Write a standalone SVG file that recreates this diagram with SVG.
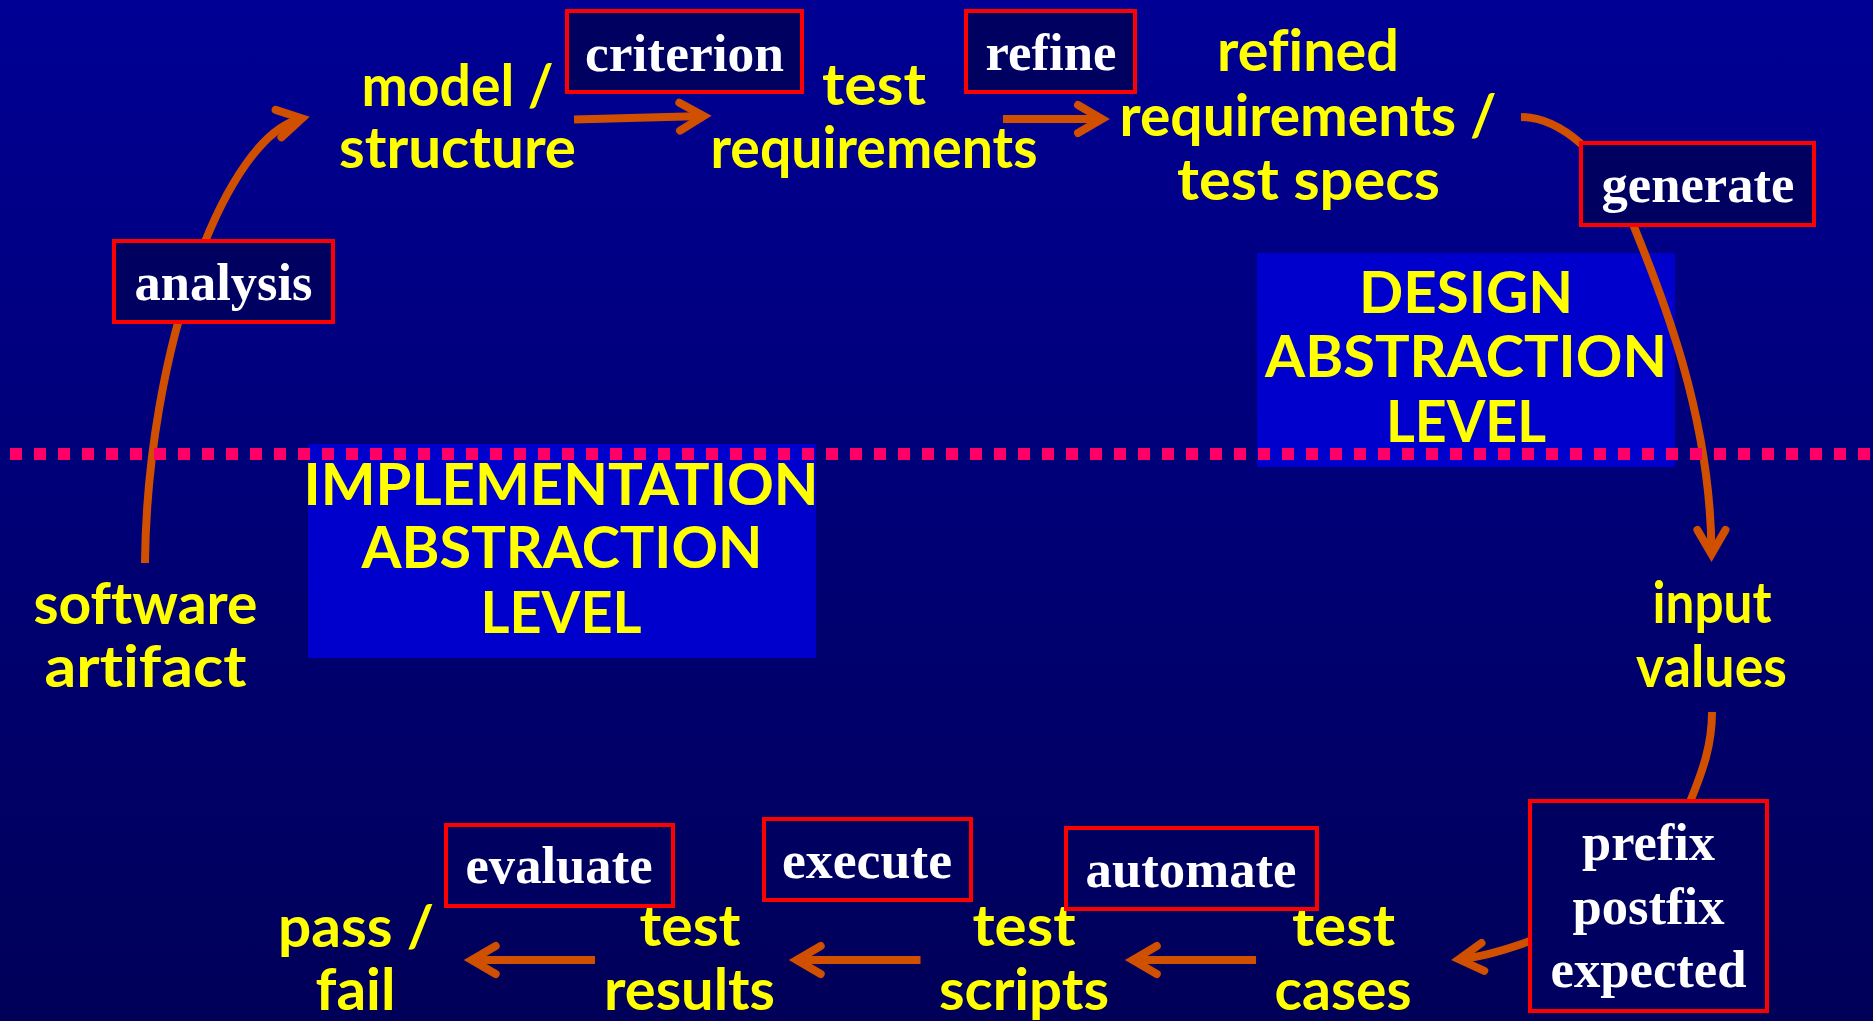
<svg xmlns="http://www.w3.org/2000/svg" width="1873" height="1021" viewBox="0 0 1873 1021">
  <defs>
    <linearGradient id="bg" x1="0" y1="0" x2="0" y2="1">
      <stop offset="0" stop-color="#000094"/>
      <stop offset="1" stop-color="#000058"/>
    </linearGradient>
    <marker id="head" markerUnits="userSpaceOnUse" viewBox="-40 -30 60 60" markerWidth="60" markerHeight="60" refX="0" refY="0" orient="auto">
      <path d="M-24,-14 L0,0 L-24,14" fill="none" stroke="#D05000" stroke-width="8" stroke-linecap="round" stroke-linejoin="miter" stroke-miterlimit="10"/>
    </marker>
  </defs>
  <style>
    .lbl { font-family: Lato, 'DejaVu Sans', sans-serif; font-weight: 700; font-size: 57px; fill: #FFFF00; text-anchor: middle; font-variant-ligatures: none; }
    .act { font-family: 'Liberation Serif', 'Times New Roman', serif; font-weight: 700; font-size: 53px; fill: #FFFFFF; text-anchor: middle; }
    .box { fill: #000060; stroke: #FF0000; stroke-width: 4; }
    .level { fill: #0000CC; }
    .edge { fill: none; stroke: #D05000; stroke-width: 8; stroke-linecap: butt; }
    .arrow { marker-end: url(#head); }
    .divider { fill: none; stroke: #FF0066; stroke-width: 12; stroke-dasharray: 12 12; }
  </style>

  <rect x="0" y="0" width="1873" height="1021" fill="url(#bg)"/>

  <!-- abstraction level panels -->
  <g id="design-level">
    <rect class="level" x="1257" y="253" width="418" height="214"/>
    <text class="lbl" x="1466" y="313" textLength="214" lengthAdjust="spacingAndGlyphs">DESIGN</text>
    <text class="lbl" x="1466" y="377" textLength="402" lengthAdjust="spacingAndGlyphs">ABSTRACTION</text>
    <text class="lbl" x="1466" y="442" textLength="160" lengthAdjust="spacingAndGlyphs">LEVEL</text>
  </g>
  <g id="implementation-level">
    <rect class="level" x="308" y="444" width="508" height="214"/>
    <text class="lbl" x="561" y="505" textLength="515" lengthAdjust="spacingAndGlyphs">IMPLEMENTATION</text>
    <text class="lbl" x="562" y="568" textLength="401" lengthAdjust="spacingAndGlyphs">ABSTRACTION</text>
    <text class="lbl" x="561" y="633" textLength="161" lengthAdjust="spacingAndGlyphs">LEVEL</text>
  </g>

  <!-- connectors -->
  <g id="connectors">
    <path class="edge arrow" d="M145,563 C147,350 225,135 302,118.5"/>
    <path class="edge arrow" d="M574,119.5 L703.7,116"/>
    <path class="edge arrow" d="M1003,119 L1102,119"/>
    <path class="edge arrow" d="M1521,117 C1560,117 1605,157 1625,205 C1665,300 1711,420 1711.5,554"/>
    <path class="edge" d="M1712,712 C1712,745 1703,770 1690,802"/>
    <path class="edge arrow" d="M1530,941 C1505,950 1482,957 1459,959.3"/>
    <path class="edge arrow" d="M1256,960 L1132.8,960"/>
    <path class="edge arrow" d="M920.5,960 L796.7,960"/>
    <path class="edge arrow" d="M595,960 L471.7,960"/>
  </g>

  <!-- boundary between the two abstraction levels -->
  <line class="divider" x1="10" y1="454" x2="1873" y2="454"/>

  <!-- artifacts -->
  <g id="software-artifact">
    <text class="lbl" x="145.5" y="624" textLength="224" lengthAdjust="spacingAndGlyphs">software</text>
    <text class="lbl" x="145.5" y="687" textLength="202" lengthAdjust="spacingAndGlyphs">artifact</text>
  </g>
  <g id="model-structure">
    <text class="lbl" x="457.5" y="106" textLength="192" lengthAdjust="spacingAndGlyphs">model /</text>
    <text class="lbl" x="457.5" y="168" textLength="237" lengthAdjust="spacingAndGlyphs">structure</text>
  </g>
  <g id="test-requirements">
    <text class="lbl" x="874" y="105" textLength="104" lengthAdjust="spacingAndGlyphs">test</text>
    <text class="lbl" x="874" y="168" textLength="327" lengthAdjust="spacingAndGlyphs">requirements</text>
  </g>
  <g id="refined-requirements">
    <text class="lbl" x="1308" y="71" textLength="182" lengthAdjust="spacingAndGlyphs">refined</text>
    <text class="lbl" x="1308" y="135.5" textLength="377" lengthAdjust="spacingAndGlyphs">requirements /</text>
    <text class="lbl" x="1308.5" y="200" textLength="263" lengthAdjust="spacingAndGlyphs">test specs</text>
  </g>
  <g id="input-values">
    <text class="lbl" x="1712" y="623" textLength="119" lengthAdjust="spacingAndGlyphs">input</text>
    <text class="lbl" x="1711.5" y="687" textLength="151" lengthAdjust="spacingAndGlyphs">values</text>
  </g>
  <g id="test-cases">
    <text class="lbl" x="1343.5" y="946" textLength="103" lengthAdjust="spacingAndGlyphs">test</text>
    <text class="lbl" x="1343" y="1010" textLength="137" lengthAdjust="spacingAndGlyphs">cases</text>
  </g>
  <g id="test-scripts">
    <text class="lbl" x="1024" y="946" textLength="103" lengthAdjust="spacingAndGlyphs">test</text>
    <text class="lbl" x="1024" y="1010" textLength="170" lengthAdjust="spacingAndGlyphs">scripts</text>
  </g>
  <g id="test-results">
    <text class="lbl" x="690" y="946" textLength="101" lengthAdjust="spacingAndGlyphs">test</text>
    <text class="lbl" x="689.5" y="1010" textLength="171" lengthAdjust="spacingAndGlyphs">results</text>
  </g>
  <g id="pass-fail">
    <text class="lbl" x="356" y="947" textLength="156" lengthAdjust="spacingAndGlyphs">pass /</text>
    <text class="lbl" x="355.5" y="1010" textLength="80" lengthAdjust="spacingAndGlyphs">fail</text>
  </g>

  <!-- activities -->
  <g id="analysis">
    <rect class="box" x="114" y="241" width="219" height="81"/>
    <text class="act" x="223.5" y="300" textLength="178" lengthAdjust="spacingAndGlyphs">analysis</text>
  </g>
  <g id="criterion">
    <rect class="box" x="567" y="11" width="235" height="81"/>
    <text class="act" x="684.5" y="71" textLength="199" lengthAdjust="spacingAndGlyphs">criterion</text>
  </g>
  <g id="refine">
    <rect class="box" x="966" y="11" width="169" height="81"/>
    <text class="act" x="1051" y="70" textLength="131" lengthAdjust="spacingAndGlyphs">refine</text>
  </g>
  <g id="generate">
    <rect class="box" x="1581" y="143" width="233" height="82"/>
    <text class="act" x="1698" y="202" textLength="193" lengthAdjust="spacingAndGlyphs">generate</text>
  </g>
  <g id="prefix-postfix-expected">
    <rect class="box" x="1530" y="801" width="237" height="210"/>
    <text class="act" x="1648.5" y="860" textLength="133" lengthAdjust="spacingAndGlyphs">prefix</text>
    <text class="act" x="1648.5" y="923.5" textLength="152" lengthAdjust="spacingAndGlyphs">postfix</text>
    <text class="act" x="1648.5" y="987" textLength="196" lengthAdjust="spacingAndGlyphs">expected</text>
  </g>
  <g id="automate">
    <rect class="box" x="1066" y="828" width="251" height="81"/>
    <text class="act" x="1191" y="887" textLength="211" lengthAdjust="spacingAndGlyphs">automate</text>
  </g>
  <g id="execute">
    <rect class="box" x="764" y="819" width="207" height="81"/>
    <text class="act" x="867" y="878" textLength="170" lengthAdjust="spacingAndGlyphs">execute</text>
  </g>
  <g id="evaluate">
    <rect class="box" x="446" y="825" width="227" height="81"/>
    <text class="act" x="559" y="883" textLength="187" lengthAdjust="spacingAndGlyphs">evaluate</text>
  </g>
</svg>
